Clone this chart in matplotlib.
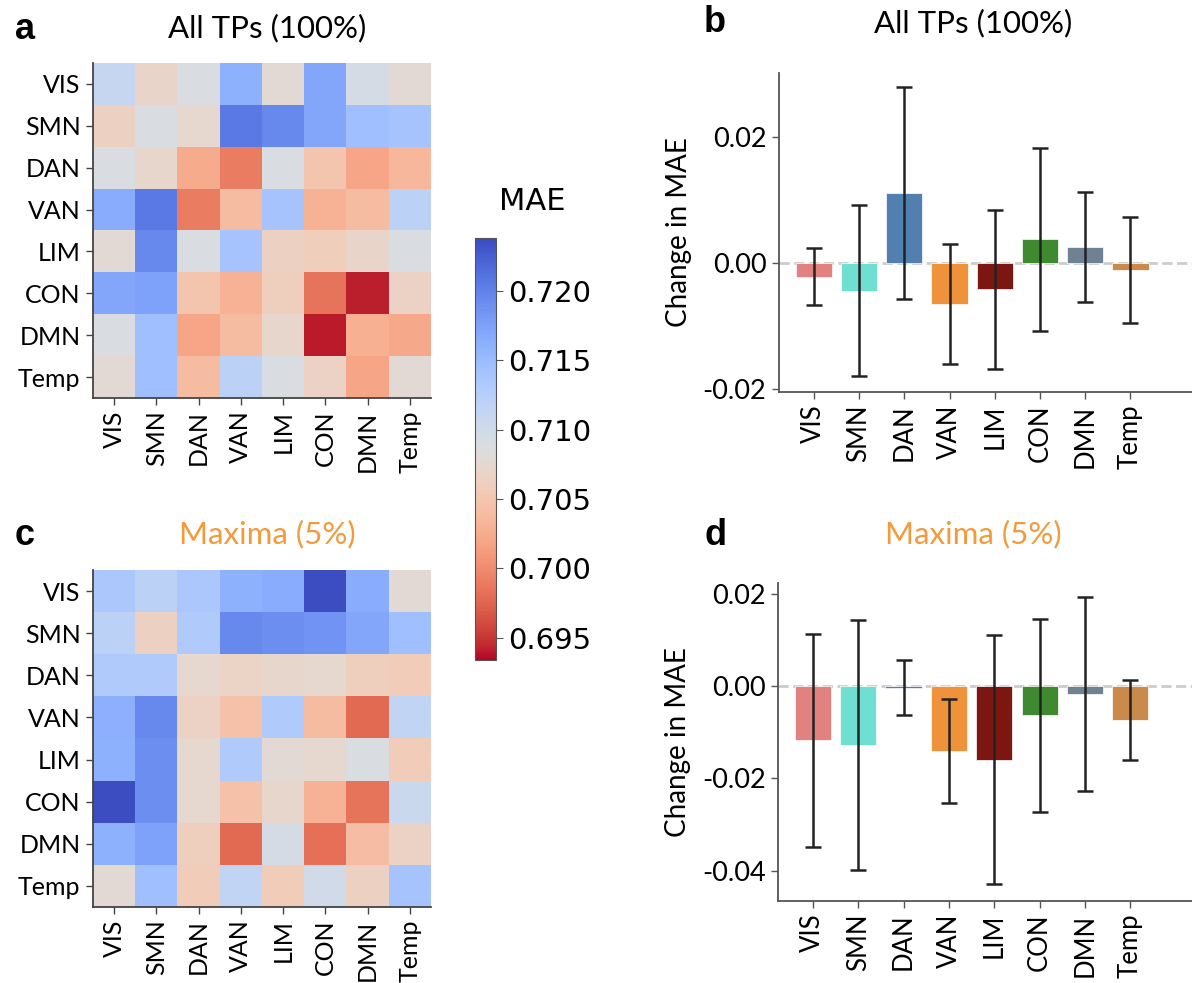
import numpy as np
import matplotlib
matplotlib.use("Agg")
import matplotlib.pyplot as plt

plt.rcParams['font.family'] = ['Lato', 'DejaVu Sans']
plt.rcParams['axes.unicode_minus'] = False

networks = ["VIS", "SMN", "DAN", "VAN", "LIM", "CON", "DMN", "Temp"]

# MAE matrices (rows/cols = networks)
mae_all = np.array([
    [0.7110, 0.7070, 0.7090, 0.7160, 0.7080, 0.7170, 0.7095, 0.7080],
    [0.7065, 0.7090, 0.7075, 0.7205, 0.7195, 0.7170, 0.7145, 0.7140],
    [0.7090, 0.7072, 0.7025, 0.6990, 0.7090, 0.7050, 0.7020, 0.7035],
    [0.7165, 0.7205, 0.6990, 0.7040, 0.7140, 0.7030, 0.7040, 0.7120],
    [0.7080, 0.7195, 0.7090, 0.7140, 0.7065, 0.7060, 0.7070, 0.7090],
    [0.7170, 0.7175, 0.7050, 0.7030, 0.7062, 0.6985, 0.6942, 0.7066],
    [0.7090, 0.7145, 0.7020, 0.7040, 0.7072, 0.6940, 0.7028, 0.7022],
    [0.7080, 0.7145, 0.7040, 0.7120, 0.7090, 0.7066, 0.7020, 0.7080],
])
mae_max = np.array([
    [0.7135, 0.7120, 0.7135, 0.7160, 0.7165, 0.7236, 0.7165, 0.7080],
    [0.7120, 0.7065, 0.7130, 0.7195, 0.7190, 0.7185, 0.7170, 0.7145],
    [0.7130, 0.7130, 0.7075, 0.7068, 0.7072, 0.7075, 0.7062, 0.7058],
    [0.7162, 0.7195, 0.7066, 0.7045, 0.7130, 0.7040, 0.6978, 0.7115],
    [0.7160, 0.7190, 0.7075, 0.7130, 0.7080, 0.7075, 0.7090, 0.7058],
    [0.7236, 0.7190, 0.7075, 0.7045, 0.7072, 0.7030, 0.6985, 0.7105],
    [0.7160, 0.7175, 0.7062, 0.6978, 0.7095, 0.6982, 0.7042, 0.7066],
    [0.7080, 0.7145, 0.7058, 0.7115, 0.7058, 0.7100, 0.7065, 0.7140],
])

# change in MAE per network, with error half-widths
delta_all = [-0.0022, -0.0044, 0.0111, -0.0065, -0.0042, 0.0037, 0.0025, -0.0011]
err_all = [0.0045, 0.0136, 0.0168, 0.0095, 0.0126, 0.0145, 0.0088, 0.0084]
delta_max = [-0.0118, -0.0128, -0.0004, -0.0141, -0.0160, -0.0064, -0.0017, -0.0074]
err_max = [0.0230, 0.0270, 0.0060, 0.0112, 0.0270, 0.0210, 0.0210, 0.0087]

bar_colors = ['#e18280', '#6fdfd1', '#517fb0', '#f0923a',
              '#7b1611', '#3f8a30', '#6f8293', '#c98a4c']

VMIN, VMAX = 0.6934, 0.7238
W, H = 1192, 983
fig = plt.figure(figsize=(W / 100, H / 100), dpi=100)


def px(l, t, r, b):
    return [l / W, 1 - b / H, (r - l) / W, (b - t) / H]


def heatmap(rect, data):
    ax = fig.add_axes(px(*rect))
    im = ax.imshow(data, cmap='coolwarm_r', vmin=VMIN, vmax=VMAX, aspect='auto')
    ax.set_xticks(range(len(networks)))
    ax.set_yticks(range(len(networks)))
    ax.set_xticklabels(networks, rotation=90, fontsize=18)
    ax.set_yticklabels(networks, fontsize=18)
    for s in ['top', 'right']:
        ax.spines[s].set_visible(False)
    for s in ['left', 'bottom']:
        ax.spines[s].set_color('#444444')
        ax.spines[s].set_linewidth(1.3)
    ax.tick_params(length=5, width=1, color='#444444', pad=4)
    return im


def barplot(rect, vals, errs, ylim, yticks):
    ax = fig.add_axes(px(*rect))
    x = np.arange(len(networks))
    ax.axhline(0, color='#cccccc', ls='--', lw=2, zorder=0)
    ax.bar(x, vals, width=0.8, color=bar_colors, edgecolor='white', linewidth=0.5, zorder=1)
    ax.errorbar(x, vals, yerr=errs, fmt='none', ecolor='#222222', elinewidth=1.8,
                capsize=5.5, capthick=1.8, zorder=2)
    ax.set_xlim(-0.77, 8.36)
    ax.set_ylim(*ylim)
    ax.set_yticks(yticks)
    ax.set_yticklabels([f"{t:.2f}" for t in yticks], fontsize=19.5)
    ax.set_xticks(x)
    ax.set_xticklabels(networks, rotation=90, fontsize=18.5)
    ax.set_ylabel("Change in MAE", fontsize=20, labelpad=8)
    for s in ['top', 'right']:
        ax.spines[s].set_visible(False)
    for s in ['left', 'bottom']:
        ax.spines[s].set_color('#555555')
        ax.spines[s].set_linewidth(1.3)
    ax.tick_params(length=5, width=1, color='#555555', pad=4)
    return ax


im = heatmap((93, 63, 431, 398), mae_all)
heatmap((93, 570, 431, 907), mae_max)

cax = fig.add_axes(px(475, 238, 496, 660))
cb = fig.colorbar(im, cax=cax, ticks=[0.695, 0.700, 0.705, 0.710, 0.715, 0.720])
cb.ax.set_yticklabels([f"{t:.3f}" for t in cb.get_ticks()], family='DejaVu Sans', fontsize=21)
cb.outline.set_edgecolor('#555555')
cb.ax.tick_params(length=5, color='#555555')
fig.text(532 / W, 1 - 210 / H, "MAE", fontsize=22, family='DejaVu Sans',
         ha='center', va='baseline')

barplot((779, 73, 1192, 392), delta_all, err_all, (-0.0205, 0.0301), [-0.02, 0.0, 0.02])
barplot((778, 583, 1192, 901), delta_max, err_max, (-0.0466, 0.0223), [-0.04, -0.02, 0.0, 0.02])

orange = '#f39a3b'
# pixel-space titles and panel letters (y from top)
for x, y, s, c in [(267, 37, "All TPs (100%)", 'black'), (973, 32, "All TPs (100%)", 'black'),
                   (267, 543, "Maxima (5%)", orange), (973, 543, "Maxima (5%)", orange)]:
    fig.text(x / W, 1 - y / H, s, fontsize=22.5, color=c, ha='center', va='baseline')
for x, y, s in [(15, 39, "a"), (704, 32, "b"), (15, 545, "c"), (704, 545, "d")]:
    fig.text(x / W, 1 - y / H, s, fontsize=26, fontweight='bold',
             family='Liberation Sans', ha='left', va='baseline')

fig.savefig("out.png", dpi=100)
